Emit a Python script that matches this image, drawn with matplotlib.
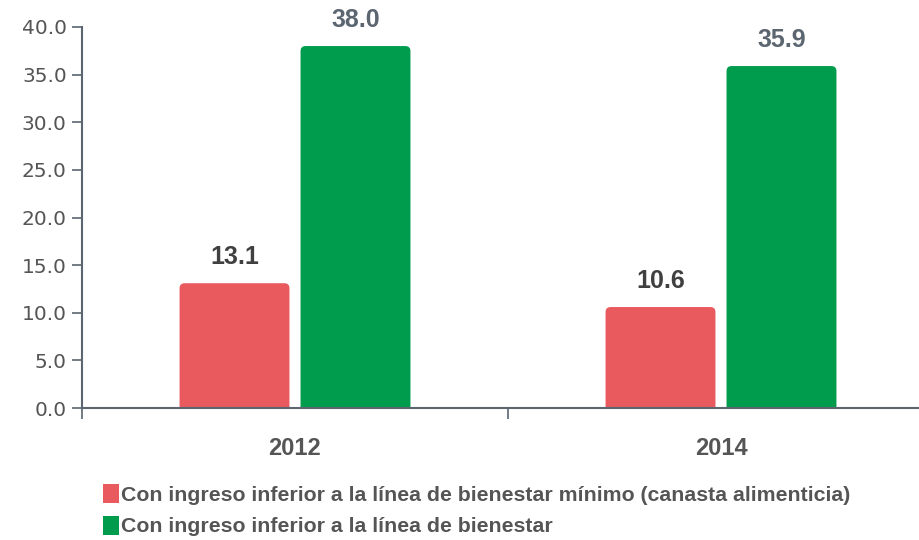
import numpy as np
import matplotlib.pyplot as plt
from matplotlib.patches import FancyBboxPatch, Patch

years = ['2012', '2014']
minimo = [13.1, 10.6]
bienestar = [38.0, 35.9]
series_names = ['Con ingreso inferior a la línea de bienestar mínimo (canasta alimenticia)',
                'Con ingreso inferior a la línea de bienestar']
red = '#E95A5F'
green = '#009C4D'
axis_col = '#5B6670'

fig = plt.figure(figsize=(9.2, 5.4), dpi=100)
ax = fig.add_axes([82/920, 132/540, 852/920, 381/540])

x = np.arange(len(years))
w = 0.258
b1 = ax.bar(x - 0.142, minimo, w, color=red)
b2 = ax.bar(x + 0.142, bienestar, w, color=green)

# swap plain bars for ones with rounded tops
for bars in (b1, b2):
    for p in bars:
        p.set_visible(False)
        fb = FancyBboxPatch((p.get_x(), -1), p.get_width(), p.get_height() + 1,
                            boxstyle='round,pad=0,rounding_size=0.012',
                            mutation_aspect=44, facecolor=p.get_facecolor(),
                            edgecolor='none')
        ax.add_patch(fb)

for p, v in zip(b1, minimo):
    ax.text(p.get_x() + p.get_width()/2, v + 1.5, f'{v:.1f}', ha='center', va='bottom',
            fontsize=18, fontweight='bold', color='#404040', family='Liberation Sans')
for p, v in zip(b2, bienestar):
    ax.text(p.get_x() + p.get_width()/2, v + 1.5, f'{v:.1f}', ha='center', va='bottom',
            fontsize=18, fontweight='bold', color='#5B6670', family='Liberation Sans')

ax.set_xlim(-0.5, 1.5)
ax.set_ylim(0, 40)
ax.set_yticks(np.arange(0, 41, 5))
ax.set_yticklabels([f'{t:.1f}' for t in np.arange(0, 41, 5)])
ax.tick_params(axis='y', labelsize=14.5, labelcolor='#555555', color=axis_col,
               length=7, width=1.2, pad=4)
ax.set_xticks([-0.5, 0.5, 1.5])
ax.set_xticklabels([])
ax.set_xticks(x, minor=True)
ax.set_xticklabels(years, minor=True, fontsize=17, fontweight='bold', color='#555555',
                   family='Liberation Sans')
ax.tick_params(axis='x', which='major', color=axis_col, length=8, width=1.2)
ax.tick_params(axis='x', which='minor', length=0, pad=21)

for s in ['top', 'right']:
    ax.spines[s].set_visible(False)
for s in ['left', 'bottom']:
    ax.spines[s].set_color(axis_col)
    ax.spines[s].set_linewidth(1.5)

handles = [Patch(facecolor=red), Patch(facecolor=green)]
leg = fig.legend(handles, series_names, loc='upper left', bbox_to_anchor=(84/920, 1 - 465/540),
                 frameon=False, handlelength=0.75, handleheight=1.0, handletextpad=0.1,
                 labelspacing=0.5, prop={'family': 'Liberation Sans',
                                         'weight': 'bold', 'size': 15.3})
for t in leg.get_texts():
    t.set_color('#555555')

fig.savefig('out.png', dpi=100)
